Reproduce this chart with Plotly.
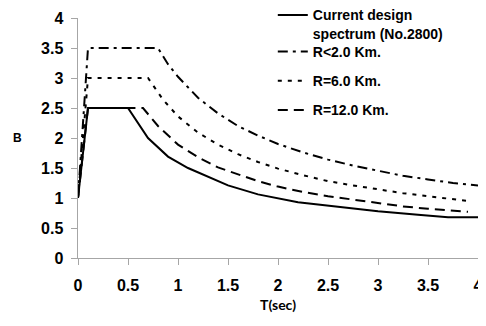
import plotly.graph_objects as go

# Data
T_cur = [0, 0.1, 0.5, 0.7, 0.9, 1.1, 1.5, 1.8, 2.2, 2.6, 3.0, 3.4, 3.7, 4.0]
B_cur = [1.0, 2.5, 2.5, 2.0, 1.69, 1.5, 1.21, 1.06, 0.93, 0.85, 0.78, 0.72, 0.68, 0.68]

T_r2 = [0, 0.1, 0.8, 0.9, 1.0, 1.2, 1.4, 1.6, 1.8, 2.0, 2.25, 2.5, 2.75, 3.0, 3.25, 3.5, 3.75, 4.0]
B_r2 = [1.0, 3.5, 3.5, 3.23, 3.02, 2.67, 2.41, 2.20, 2.04, 1.90, 1.76, 1.64, 1.54, 1.45, 1.37, 1.31, 1.25, 1.21]

T_r6 = [0, 0.1, 0.7, 0.85, 1.0, 1.2, 1.4, 1.6, 1.8, 2.0, 2.25, 2.5, 2.75, 3.0, 3.25, 3.5, 3.9]
B_r6 = [1.0, 3.0, 3.0, 2.64, 2.36, 2.09, 1.89, 1.73, 1.60, 1.49, 1.38, 1.28, 1.21, 1.14, 1.08, 1.03, 0.95]

T_r12 = [0, 0.1, 0.65, 0.8, 1.0, 1.2, 1.4, 1.6, 1.8, 2.0, 2.25, 2.5, 2.75, 3.0, 3.25, 3.5, 3.9]
B_r12 = [1.0, 2.5, 2.5, 2.20, 1.89, 1.68, 1.51, 1.39, 1.28, 1.19, 1.10, 1.03, 0.97, 0.91, 0.86, 0.82, 0.77]

names = ["Current design<br>spectrum (No.2800)", "R<2.0 Km.", "R=6.0 Km.", "R=12.0 Km."]
x_ticks = [0, 0.5, 1, 1.5, 2, 2.5, 3, 3.5, 4]
x_tick_labels = ["0", "0.5", "1", "1.5", "2", "2.5", "3", "3.5", "4"]
y_ticks = [0, 0.5, 1, 1.5, 2, 2.5, 3, 3.5, 4]
y_tick_labels = ["0", "0.5", "1", "1.5", "2", "2.5", "3", "3.5", "4"]

FONT = "Liberation Sans, Arial, sans-serif"


def bold(s):
    return "<b>" + s.replace("<br>", "</b><br><b>") + "</b>"


series = [
    (T_cur, B_cur, "solid", "legend"),
    (T_r2, B_r2, "10px,5px,3px,5px", "legend2"),
    (T_r6, B_r6, "4px,6px", "legend2"),
    (T_r12, B_r12, "10px,6px", "legend2"),
]

fig = go.Figure()
for i, ((tx, by, dash, lg), nm) in enumerate(zip(series, names)):
    fig.add_trace(go.Scatter(
        x=tx, y=by, mode="lines", name=bold(nm), legendgroup=f"g{i}", legend=lg,
        line=dict(color="black", width=2, dash=dash),
    ))

# page has an 8px body margin; plot area sits at page x 78-478, y 18-258
fig.update_layout(
    width=478, height=318,
    margin=dict(l=70, r=8, t=10, b=68, autoexpand=False),
    paper_bgcolor="white", plot_bgcolor="white",
    font=dict(family=FONT, color="black"),
    showlegend=True,
    legend=dict(
        x=0.487, y=1.078, xanchor="left", yanchor="top",
        bgcolor="rgba(0,0,0,0)", font=dict(size=14, family=FONT),
        valign="top",
    ),
    legend2=dict(
        x=0.487, y=0.925, xanchor="left", yanchor="top",
        bgcolor="rgba(0,0,0,0)", font=dict(size=14, family=FONT),
        tracegroupgap=8, traceorder="grouped",
    ),
    xaxis=dict(
        range=[0, 4], tickvals=x_ticks, ticktext=[bold(t) for t in x_tick_labels],
        showline=True, linecolor="#a6a6a6", linewidth=1,
        ticks="outside", ticklen=6, tickcolor="#a6a6a6",
        showgrid=False, zeroline=False, ticklabelstandoff=7,
        tickfont=dict(size=16, family=FONT),
        title=dict(text="<b>T(sec)</b>", font=dict(size=14, family="Lato, " + FONT), standoff=6),
    ),
    yaxis=dict(
        range=[0, 4], tickvals=y_ticks, ticktext=[bold(t) + "&nbsp;" for t in y_tick_labels],
        showline=True, linecolor="#a6a6a6", linewidth=1,
        ticks="outside", ticklen=6, tickcolor="#a6a6a6",
        showgrid=False, zeroline=False,
        tickfont=dict(size=16, family=FONT),
    ),
    annotations=[dict(
        text="<b>B</b>", x=(17 - 78) / 400, y=(258 - 138) / 240,
        xref="paper", yref="paper", showarrow=False,
        xanchor="center", yanchor="middle",
        font=dict(size=12, family=FONT),
    )],
)

fig.write_html("out.html")
